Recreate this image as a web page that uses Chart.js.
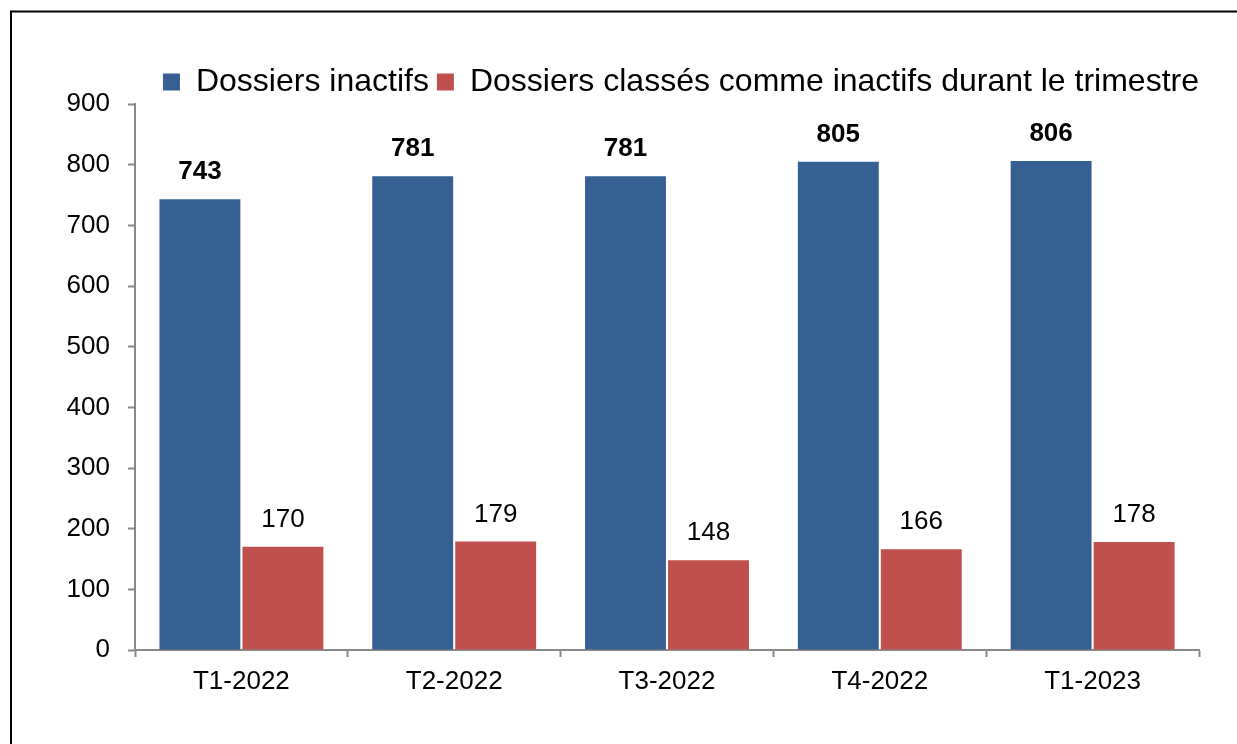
<!DOCTYPE html>
<html lang="fr">

<head>
  <meta charset="UTF-8">
  <meta name="viewport" content="width=device-width, initial-scale=1.0">
  <title>Dossiers inactifs</title>
  <script src="https://cdn.jsdelivr.net/npm/chart.js"></script>
  <style>
    html, body { margin: 0; padding: 0; background: #fff; }
    #wrap { width: 1237px; height: 744px; position: relative; }
  </style>
</head>

<body>
  <div id="wrap"><canvas id="inactifsChart"></canvas></div>
  <script>
    // Données du graphique
    const trimestres = ['T1-2022', 'T2-2022', 'T3-2022', 'T4-2022', 'T1-2023'];
    const dossiersInactifs = [743, 781, 781, 805, 806];
    const classesInactifs = [170, 179, 148, 166, 178];
    const yTicks = [0, 100, 200, 300, 400, 500, 600, 700, 800, 900];

    const police = '"Liberation Sans", Arial, sans-serif';
    const gris = '#898989';

    // Cadre noir (bord gauche et haut)
    const cadre = {
      id: 'cadre',
      afterLayout(chart) {
        // pousse la légende vers la droite et un peu plus bas
        chart.legend.left += 8;
        chart.legend.right += 8;
        chart.legend.top += 4;
        chart.legend.bottom += 4;
      },
      afterDraw(chart) {
        const ctx = chart.ctx;
        ctx.save();
        ctx.strokeStyle = '#000';
        ctx.lineWidth = 2;
        ctx.beginPath();
        ctx.moveTo(11, chart.height);
        ctx.lineTo(11, 11.5);
        ctx.lineTo(chart.width, 11.5);
        ctx.stroke();
        ctx.restore();
      }
    };

    // Étiquettes de valeurs au-dessus des barres
    const etiquettes = {
      id: 'etiquettes',
      afterDatasetsDraw(chart) {
        const ctx = chart.ctx;
        ctx.save();
        ctx.fillStyle = '#000';
        ctx.textAlign = 'center';
        ctx.textBaseline = 'middle';
        chart.data.datasets.forEach((ds, i) => {
          const meta = chart.getDatasetMeta(i);
          ctx.font = (i === 0 ? 'bold ' : '') + '26px ' + police;
          meta.data.forEach((bar, j) => {
            ctx.fillText(String(ds.data[j]), bar.x, bar.y - 27);
          });
        });
        ctx.restore();
      }
    };

    const ctx = document.getElementById('inactifsChart').getContext('2d');

    new Chart(ctx, {
      type: 'bar',
      data: {
        labels: trimestres,
        datasets: [{
          label: 'Dossiers inactifs',
          data: dossiersInactifs,
          backgroundColor: '#376092',
          categoryPercentage: 0.78,
          barPercentage: 0.975
        }, {
          label: 'Dossiers classés comme inactifs durant le trimestre',
          data: classesInactifs,
          backgroundColor: '#C0504D',
          categoryPercentage: 0.78,
          barPercentage: 0.975
        }]
      },
      options: {
        responsive: true,
        maintainAspectRatio: false,
        animation: false,
        layout: {
          padding: { top: 54, right: 38, bottom: 0, left: 0 }
        },
        plugins: {
          legend: {
            position: 'top',
            align: 'end',
            labels: {
              boxWidth: 17,
              boxHeight: 17,
              padding: 8,
              color: '#000',
              font: { family: police, size: 32 }
            }
          },
          tooltip: { enabled: false }
        },
        scales: {
          x: {
            grid: {
              drawOnChartArea: false,
              tickLength: 7,
              tickColor: gris,
              tickWidth: 2
            },
            border: { color: gris, width: 2 },
            ticks: {
              color: '#000',
              padding: 9,
              font: { family: police, size: 26 }
            },
            afterFit(s) { s.height = 94; }
          },
          y: {
            min: 0,
            max: 900,
            afterBuildTicks(s) { s.ticks = yTicks.map(v => ({ value: v })); },
            grid: {
              drawOnChartArea: false,
              tickLength: 7,
              tickColor: gris,
              tickWidth: 2
            },
            border: { color: gris, width: 2 },
            ticks: {
              color: '#000',
              padding: 18,
              font: { family: police, size: 26 }
            },
            afterFit(s) { s.width = 135; }
          }
        }
      },
      plugins: [cadre, etiquettes]
    });
  </script>
</body>

</html>
